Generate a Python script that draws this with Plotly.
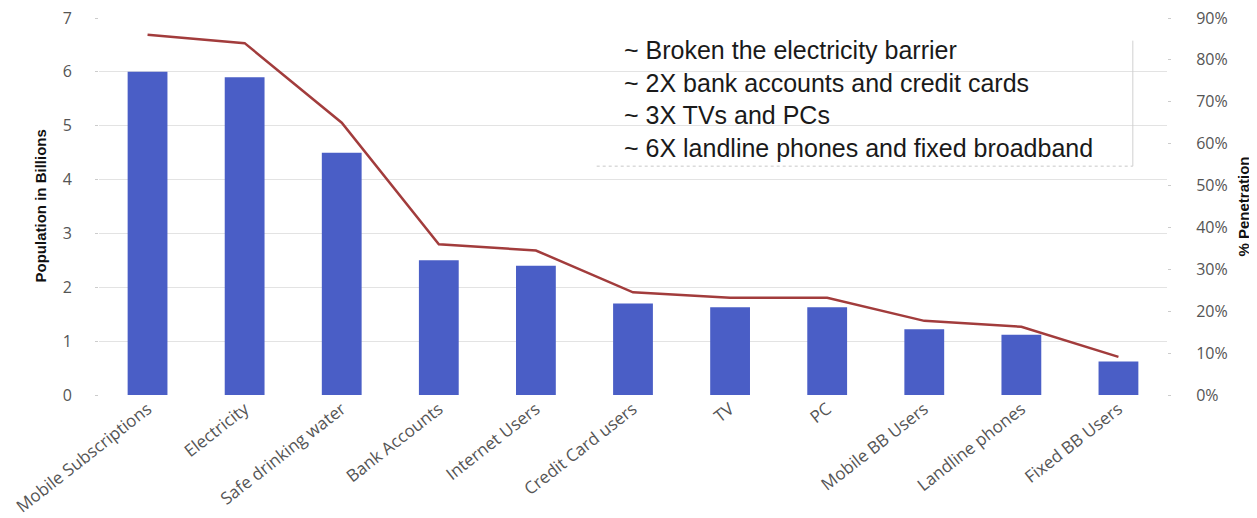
import plotly.graph_objects as go

categories = ["Mobile Subscriptions", "Electricity", "Safe drinking water", "Bank Accounts",
              "Internet Users", "Credit Card users", "TV", "PC", "Mobile BB Users",
              "Landline phones", "Fixed BB Users"]
population_billions = [6.0, 5.9, 4.5, 2.5, 2.4, 1.7, 1.63, 1.63, 1.22, 1.12, 0.62]
penetration = [0.86, 0.84, 0.65, 0.36, 0.345, 0.245, 0.232, 0.232, 0.177, 0.163, 0.091]
notes = ["~ Broken the electricity barrier",
         "~ 2X bank accounts and credit cards",
         "~ 3X TVs and PCs",
         "~ 6X landline phones and fixed broadband"]

tick_font = dict(family="Open Sans, Noto Sans, Liberation Sans", size=17, color="#555555")
title_font = dict(family="Liberation Sans Narrow, Arial Narrow, Liberation Sans", size=15, color="#111111")

fig = go.Figure()
fig.add_trace(go.Bar(x=categories, y=population_billions, marker=dict(color="#4a5ec6", line=dict(width=0)),
                     yaxis="y", name="Population"))
fig.add_trace(go.Scatter(x=categories, y=penetration, mode="lines", line=dict(color="#a23c3c", width=2.5),
                         yaxis="y2", name="% Penetration"))

fig.update_layout(
    width=1257, height=518,
    margin=dict(l=91, r=98, t=10, b=131),
    paper_bgcolor="white", plot_bgcolor="white",
    showlegend=False,
    bargap=0.59,
    xaxis=dict(tickangle=-38, tickfont=tick_font, showgrid=False, showline=False,
               ticks="", zeroline=False, automargin=False),
    yaxis=dict(range=[0, 7], dtick=1, tickfont=dict(family="Open Sans, Noto Sans", size=16, color="#555555"),
               showgrid=True, gridcolor="#e3e3e3", gridwidth=1, zeroline=False,
               ticks="outside", ticklen=3, tickcolor="#cccccc", ticklabelstandoff=20,
               ticklabeloverflow="allow", showline=False, automargin=False),
    yaxis2=dict(range=[0, 0.9], dtick=0.1, tickformat=".0%", overlaying="y", side="right",
                tickfont=dict(family="Open Sans, Noto Sans", size=16, color="#555555"),
                showgrid=False, zeroline=False, ticks="outside", ticklen=3, tickcolor="#cccccc",
                ticklabelstandoff=22, ticklabeloverflow="allow", showline=False, automargin=False),
)

# axis titles
fig.add_annotation(text="<b>Population in Billions</b>", textangle=-90, xref="paper", yref="paper",
                   x=0.0, y=0.5, xanchor="center", yanchor="middle", xshift=-59, showarrow=False,
                   font=title_font)
fig.add_annotation(text="<b>% Penetration</b>", textangle=-90, xref="paper", yref="paper",
                   x=1.0, y=0.5, xanchor="center", yanchor="middle", xshift=76, showarrow=False,
                   font=title_font)

# notes box
fig.add_annotation(text="<br>".join(notes), xref="paper", yref="paper", x=0.49, y=0.958,
                   xanchor="left", yanchor="top", align="left", showarrow=False,
                   font=dict(family="Liberation Sans, Arial", size=25, color="#1a1a1a"))
fig.add_shape(type="line", xref="x domain", yref="y domain", x0=0.466, x1=0.968, y0=0.607, y1=0.607,
              line=dict(color="#c8c8c8", width=1, dash="dot"))
fig.add_shape(type="line", xref="x domain", yref="y domain", x0=0.968, x1=0.968, y0=0.607, y1=0.94,
              line=dict(color="#d0d0d0", width=1))

fig.write_html("out.html")
